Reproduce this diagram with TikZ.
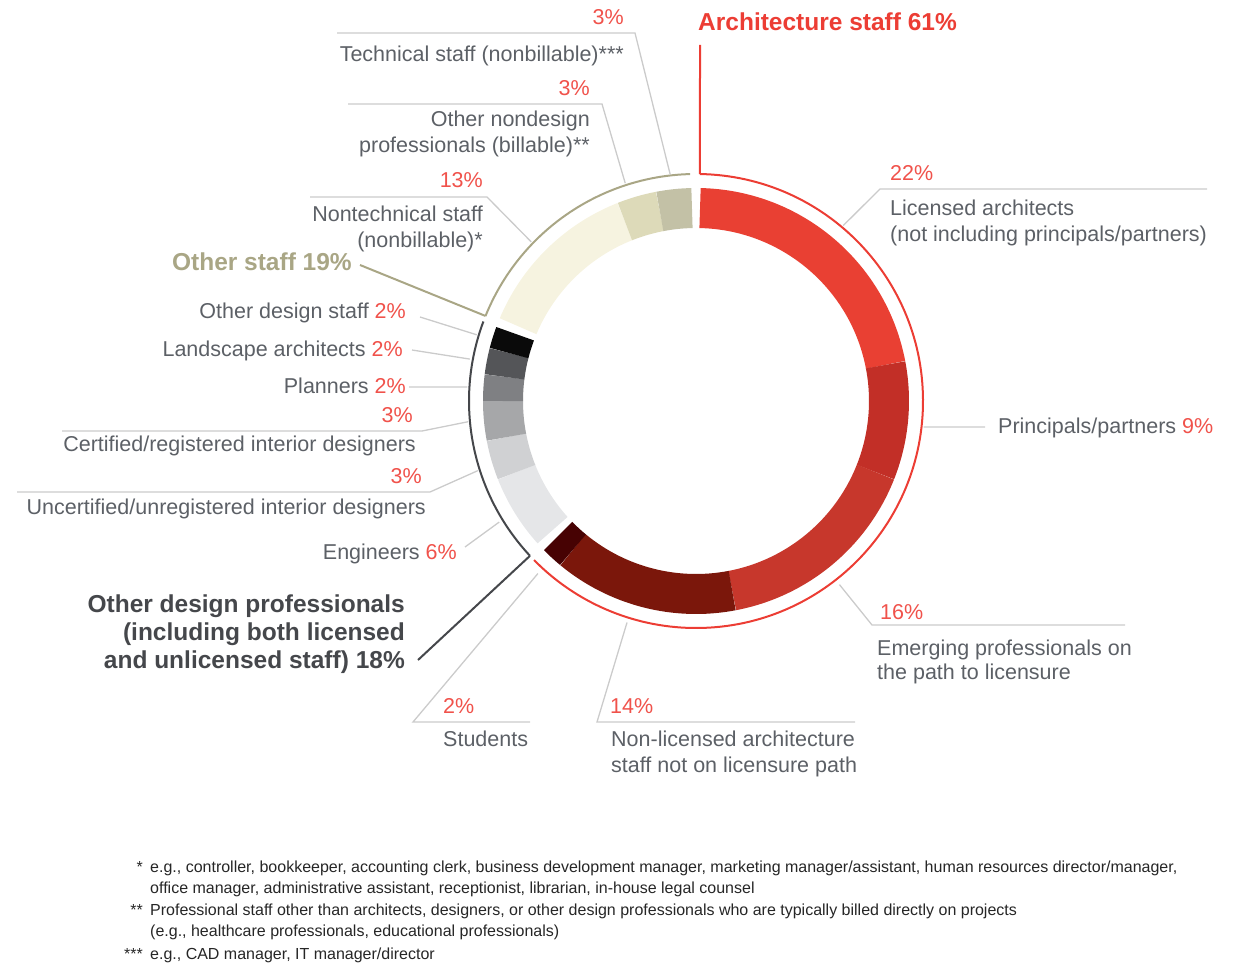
\documentclass[tikz,border=0pt]{standalone}
\usepackage{fontspec}
\setmainfont{Liberation Sans}

\definecolor{lic}{HTML}{E94033}
\definecolor{prin}{HTML}{C22F27}
\definecolor{emer}{HTML}{C7372C}
\definecolor{nlic}{HTML}{7B170B}
\definecolor{stud}{HTML}{470203}
\definecolor{eng}{HTML}{E5E6E8}
\definecolor{uncert}{HTML}{D0D1D3}
\definecolor{cert}{HTML}{A6A7A9}
\definecolor{plan}{HTML}{7F8083}
\definecolor{land}{HTML}{545558}
\definecolor{odst}{HTML}{0A0A0A}
\definecolor{ntech}{HTML}{F6F3E0}
\definecolor{ndes}{HTML}{DDDAB9}
\definecolor{tech}{HTML}{C3C1A6}
\definecolor{archred}{HTML}{EC3D34}
\definecolor{odpgray}{HTML}{45474B}
\definecolor{stafftan}{HTML}{A9A685}
\definecolor{txt}{HTML}{5C6066}
\definecolor{pct}{HTML}{F0524B}
\definecolor{lead}{HTML}{CBCBCB}
\definecolor{note}{HTML}{262626}

\tikzstyle{every node}=[inner sep=0pt, text=txt, font=\fontsize{21.5}{26}\selectfont]
\tikzstyle{pc}=[text=pct]
\tikzstyle{head}=[font=\fontsize{24.5}{28}\selectfont\bfseries]
\tikzstyle{fn}=[text=note, font=\fontsize{16}{19}\selectfont]
\tikzstyle{seg}=[line width=40pt]
\tikzstyle{grp}=[line width=2pt]
\tikzstyle{leader}=[draw=lead, line width=1.3pt]

\begin{document}
\begin{tikzpicture}[x=1pt,y=-1pt]
  \useasboundingbox (0,0) rectangle (1247,963);
  \coordinate (c) at (696,401);

  \begin{scope}[shift={(c)}]
    % architecture staff
    \draw[seg,lic]    (-88.8:193) arc[start angle=-88.8, end angle=-10.8, radius=193];
    \draw[seg,prin]   (-10.8:193) arc[start angle=-10.8, end angle=21.6, radius=193];
    \draw[seg,emer]   (21.6:193)  arc[start angle=21.6,  end angle=79.2, radius=193];
    \draw[seg,nlic]   (79.2:193)  arc[start angle=79.2,  end angle=129.6, radius=193];
    \draw[seg,stud]   (129.6:193) arc[start angle=129.6, end angle=135.6, radius=193];
    % other design professionals
    \draw[seg,eng]    (138:193)   arc[start angle=138,   end angle=158.4, radius=193];
    \draw[seg,uncert] (158.4:193) arc[start angle=158.4, end angle=169.2, radius=193];
    \draw[seg,cert]   (169.2:193) arc[start angle=169.2, end angle=180, radius=193];
    \draw[seg,plan]   (180:193)   arc[start angle=180,   end angle=187.2, radius=193];
    \draw[seg,land]   (187.2:193) arc[start angle=187.2, end angle=194.4, radius=193];
    \draw[seg,odst]   (194.4:193) arc[start angle=194.4, end angle=200.4, radius=193];
    % other staff
    \draw[seg,ntech]  (202.8:193) arc[start angle=202.8, end angle=248.4, radius=193];
    \draw[seg,ndes]   (248.4:193) arc[start angle=248.4, end angle=259.2, radius=193];
    \draw[seg,tech]   (259.2:193) arc[start angle=259.2, end angle=268.8, radius=193];

    % group arcs
    \coordinate (g-arch) at (-89:227);
    \coordinate (g-odp) at (137:227);
    \coordinate (g-staff) at (202:227);
    \draw[grp,archred] (g-arch) arc[start angle=-89, end angle=135.5, radius=227];
    \draw[grp,odpgray] (g-odp) arc[start angle=137, end angle=200.5, radius=227];
    \draw[grp,stafftan] (g-staff) arc[start angle=202, end angle=268.5, radius=227];

    % leader ends on the ring
    \coordinate (e-tech) at (-96.5:228);
    \coordinate (e-ndes) at (-108:229);
    \coordinate (e-ntech) at (-136:229);
    \coordinate (e-odst) at (196.8:229);
    \coordinate (e-land) at (190.5:230);
    \coordinate (e-plan) at (183.5:229);
    \coordinate (e-cert) at (174.8:229);
    \coordinate (e-uncert) at (162.3:229);
    \coordinate (e-eng) at (148.4:231);
    \coordinate (e-stud) at (132.5:234);
    \coordinate (e-nlic) at (107.3:232);
    \coordinate (e-emer) at (52:233);
    \coordinate (e-prin) at (6.5:229);
    \coordinate (e-lic) at (-50:229);
  \end{scope}

  % group titles
  \node[head, text=archred, anchor=base west] (tarch) at (698,31) {Architecture staff 61\%};
  \node[head, text=stafftan, anchor=base east] (tstaff) at (352,270) {Other staff 19\%};
  \node[head, text=odpgray, anchor=base east] (todp1) at (405,612) {Other design professionals};
  \node[head, text=odpgray, anchor=base east] (todp2) at (405,640) {(including both licensed};
  \node[head, text=odpgray, anchor=base east] (todp3) at (405,668) {and unlicensed staff) 18\%};

  \coordinate (k-arch) at (700,45);
  \coordinate (k-staff) at (360,265);
  \coordinate (k-odp) at (418,660);
  \draw[grp,archred] (k-arch) -- (g-arch);
  \draw[grp,stafftan] (k-staff) -- (g-staff);
  \draw[grp,odpgray] (k-odp) -- (g-odp);

  % other staff labels
  \node[pc, anchor=base east] (p-tech) at (624,25) {3\%};
  \node[anchor=base east] (l-tech) at (624,62) {Technical staff (nonbillable)***};
  \node[pc, anchor=base east] (p-ndes) at (590,96) {3\%};
  \node[anchor=base east] (l-ndes1) at (590,127) {Other nondesign};
  \node[anchor=base east] (l-ndes2) at (590,153) {professionals (billable)**};
  \node[pc, anchor=base east] (p-ntech) at (483,187) {13\%};
  \node[anchor=base east] (l-ntech1) at (483,221) {Nontechnical staff};
  \node[anchor=base east] (l-ntech2) at (483,247) {(nonbillable)*};

  \coordinate (a-tech) at (337,33);   \coordinate (b-tech) at (635,33);
  \coordinate (a-ndes) at (348,104);  \coordinate (b-ndes) at (602,104);
  \coordinate (a-ntech) at (310,197); \coordinate (b-ntech) at (487,197);
  \draw[leader] (a-tech) -- (b-tech) -- (e-tech);
  \draw[leader] (a-ndes) -- (b-ndes) -- (e-ndes);
  \draw[leader] (a-ntech) -- (b-ntech) -- (e-ntech);

  % other design labels
  \node[anchor=base east] (l-odst) at (406,318) {Other design staff \textcolor{pct}{2\%}};
  \node[anchor=base east] (l-land) at (403,356) {Landscape architects \textcolor{pct}{2\%}};
  \node[anchor=base east] (l-plan) at (406,393) {Planners \textcolor{pct}{2\%}};
  \node[pc, anchor=base east] (p-cert) at (413,422) {3\%};
  \node[anchor=base east] (l-cert) at (416,451) {Certified/registered interior designers};
  \node[pc, anchor=base east] (p-uncert) at (422,483) {3\%};
  \node[anchor=base east] (l-uncert) at (426,514) {Uncertified/unregistered interior designers};
  \node[anchor=base east] (l-eng) at (457,559) {Engineers \textcolor{pct}{6\%}};

  \coordinate (a-odst) at (420,317);
  \coordinate (a-land) at (412,350);
  \coordinate (a-plan) at (409,387);
  \coordinate (a-cert) at (62,431);   \coordinate (b-cert) at (422,431);
  \coordinate (a-uncert) at (17,492); \coordinate (b-uncert) at (430,492);
  \coordinate (a-eng) at (465,547);
  \draw[leader] (a-odst) -- (e-odst);
  \draw[leader] (a-land) -- (e-land);
  \draw[leader] (a-plan) -- (e-plan);
  \draw[leader] (a-cert) -- (b-cert) -- (e-cert);
  \draw[leader] (a-uncert) -- (b-uncert) -- (e-uncert);
  \draw[leader] (a-eng) -- (e-eng);

  % architecture labels
  \node[pc, anchor=base west] (p-stud) at (443,713) {2\%};
  \node[anchor=base west] (l-stud) at (443,746) {Students};
  \node[pc, anchor=base west] (p-nlic) at (610,713) {14\%};
  \node[anchor=base west] (l-nlic1) at (611,746) {Non-licensed architecture};
  \node[anchor=base west] (l-nlic2) at (611,772) {staff not on licensure path};
  \node[pc, anchor=base west] (p-emer) at (880,619) {16\%};
  \node[anchor=base west] (l-emer1) at (877,655) {Emerging professionals on};
  \node[anchor=base west] (l-emer2) at (877,679) {the path to licensure};
  \node[anchor=base west] (l-prin) at (998,433) {Principals/partners \textcolor{pct}{9\%}};
  \node[pc, anchor=base west] (p-lic) at (890,180) {22\%};
  \node[anchor=base west] (l-lic1) at (890,215) {Licensed architects};
  \node[anchor=base west] (l-lic2) at (890,241) {(not including principals/partners)};

  \coordinate (b-stud) at (413,722);  \coordinate (a-stud) at (530,722);
  \coordinate (b-nlic) at (597,722);  \coordinate (a-nlic) at (855,722);
  \coordinate (b-emer) at (872,625);  \coordinate (a-emer) at (1125,625);
  \coordinate (a-prin) at (985,427);
  \coordinate (b-lic) at (880,189);   \coordinate (a-lic) at (1207,189);
  \draw[leader] (e-stud) -- (b-stud) -- (a-stud);
  \draw[leader] (e-nlic) -- (b-nlic) -- (a-nlic);
  \draw[leader] (e-emer) -- (b-emer) -- (a-emer);
  \draw[leader] (e-prin) -- (a-prin);
  \draw[leader] (e-lic) -- (b-lic) -- (a-lic);

  % footnotes
  \node[fn, anchor=base east] (s1) at (143,872) {*};
  \node[fn, anchor=base west] (n1a) at (150,872) {e.g., controller, bookkeeper, accounting clerk, business development manager, marketing manager/assistant, human resources director/manager,};
  \node[fn, anchor=base west] (n1b) at (150,893) {office manager, administrative assistant, receptionist, librarian, in-house legal counsel};
  \node[fn, anchor=base east] (s2) at (143,915) {**};
  \node[fn, anchor=base west] (n2a) at (150,915) {Professional staff other than architects, designers, or other design professionals who are typically billed directly on projects};
  \node[fn, anchor=base west] (n2b) at (150,936) {(e.g., healthcare professionals, educational professionals)};
  \node[fn, anchor=base east] (s3) at (143,959) {***};
  \node[fn, anchor=base west] (n3) at (150,959) {e.g., CAD manager, IT manager/director};
\end{tikzpicture}
\end{document}
